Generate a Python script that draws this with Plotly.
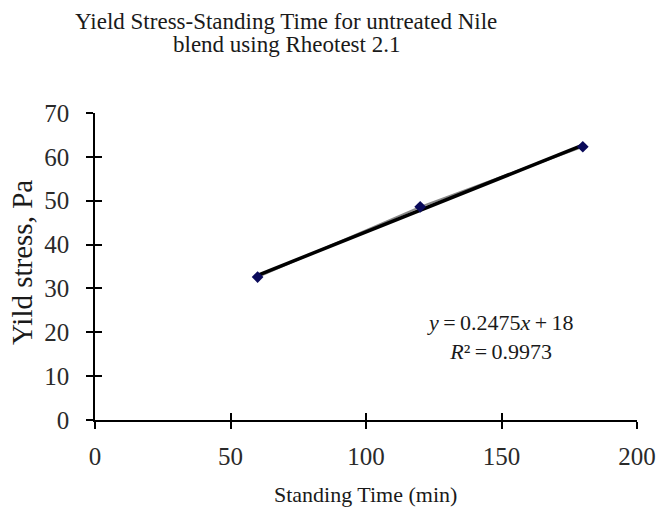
import numpy as np
import plotly.graph_objects as go

# ---- data ----
standing_time = [60, 120, 180]          # min
yield_stress = [32.6, 48.6, 62.3]       # Pa
x_ticks = [0, 50, 100, 150, 200]
y_ticks = [0, 10, 20, 30, 40, 50, 60, 70]
title_lines = ["Yield Stress-Standing Time for untreated Nile", "blend using Rheotest 2.1"]
x_title = "Standing Time (min)"
y_title = "Yild stress, Pa"
r_squared = "0.9973"

# linear trendline fitted to the data
slope, intercept = np.polyfit(standing_time, yield_stress, 1)
trend_x = [standing_time[0], standing_time[-1]]
trend_y = [slope * v + intercept for v in trend_x]

W, H = 659, 510
L, R, T, B = 95, 22, 113, 90
PW, PH = W - L - R, H - T - B


def px(xp):
    return (xp - L) / PW


def py(yp):
    return (H - B - yp) / PH


FONT = "Liberation Serif"
TXT = "#1a1a1a"

fig = go.Figure()
fig.add_trace(go.Scatter(
    x=standing_time, y=yield_stress, mode="lines",
    line=dict(color="#8a8a8a", width=2), showlegend=False, hoverinfo="skip"))
fig.add_trace(go.Scatter(
    x=trend_x, y=trend_y, mode="lines",
    line=dict(color="#000000", width=3.5), showlegend=False))
fig.add_trace(go.Scatter(
    x=standing_time, y=yield_stress, mode="markers",
    marker=dict(symbol="diamond", size=9, color="#0a0a5a"), showlegend=False))
# invisible trace for the overlay axes (inside half of the crossing ticks)
fig.add_trace(go.Scatter(x=[0], y=[0], xaxis="x2", yaxis="y2", mode="markers",
                         marker=dict(opacity=0), showlegend=False, hoverinfo="skip"))

axis_common = dict(showgrid=False, zeroline=False, showline=True, linecolor="#000000",
                   linewidth=1.5, tickcolor="#000000", tickwidth=1.5, ticklen=7)

fig.update_layout(
    width=W, height=H,
    margin=dict(l=L, r=R, t=T, b=B, autoexpand=False),
    paper_bgcolor="white", plot_bgcolor="white",
    font=dict(family=FONT, color=TXT),
    xaxis=dict(range=[0, 200], tickvals=x_ticks, ticks="outside",
               tickfont=dict(family=FONT, size=25, color="#2a2a2a"),
               ticklabelstandoff=6, **axis_common),
    yaxis=dict(range=[0, 70], tickvals=y_ticks, ticks="outside",
               tickfont=dict(family=FONT, size=25, color="#2a2a2a"),
               ticklabelstandoff=12, **axis_common),
    xaxis2=dict(range=[0, 200], tickvals=x_ticks, ticks="inside", overlaying="x",
                showticklabels=False, anchor="y2", **axis_common),
    yaxis2=dict(range=[0, 70], tickvals=y_ticks, ticks="inside", overlaying="y",
                side="left", showticklabels=False, anchor="x2", **axis_common),
)

ann = []
ann.append(dict(text=title_lines[0], x=px(286), y=py(21), xref="paper", yref="paper",
                showarrow=False, xanchor="center", yanchor="middle",
                font=dict(family=FONT, size=23, color=TXT)))
ann.append(dict(text=title_lines[1], x=px(286), y=py(45), xref="paper", yref="paper",
                showarrow=False, xanchor="center", yanchor="middle",
                font=dict(family=FONT, size=23, color=TXT)))
ann.append(dict(text=x_title, x=px(365), y=py(494), xref="paper", yref="paper",
                showarrow=False, xanchor="center", yanchor="middle",
                font=dict(family=FONT, size=22, color=TXT)))
ann.append(dict(text=y_title, x=px(22), y=py(263), xref="paper", yref="paper",
                showarrow=False, xanchor="center", yanchor="middle", textangle=-90,
                font=dict(family=FONT, size=29, color=TXT)))
sp = "\u2009"
eq = (f"<i>y</i>{sp}={sp}{slope:.4f}<i>x</i>{sp}+{sp}{intercept:.0f}<br>"
      f"<i>R</i>²{sp}={sp}{r_squared}")
ann.append(dict(text=eq, x=px(500), y=py(337), xref="paper", yref="paper",
                showarrow=False, xanchor="center", yanchor="middle", align="center",
                font=dict(family=FONT, size=22, color=TXT)))
fig.update_layout(annotations=ann)

fig.write_html("out.html", config={"displayModeBar": False},
               post_script="document.body.style.margin='0';document.body.style.overflow='hidden';")
